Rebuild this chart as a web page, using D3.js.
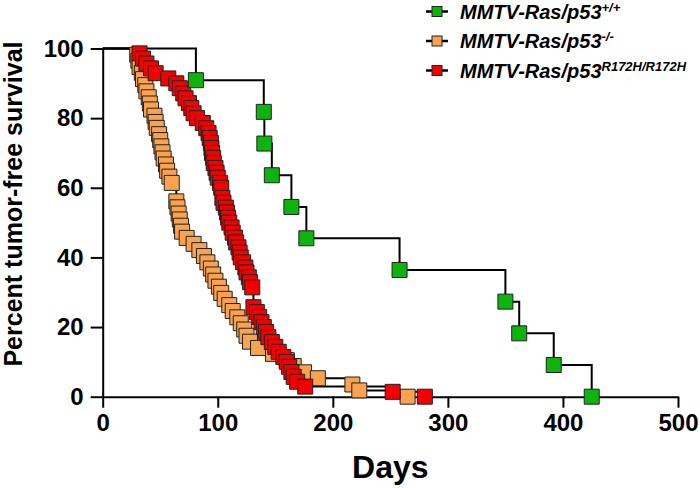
<!DOCTYPE html>
<html>
<head>
<meta charset="utf-8">
<script src="https://cdn.jsdelivr.net/npm/d3@7"></script>
<style>
  body { margin: 0; background: #fff; }
  svg { display: block; font-family: "Liberation Sans", Arial, sans-serif; }
</style>
</head>
<body>
<svg id="chart" width="700" height="488"></svg>
<script>
// Kaplan-Meier steps: day of each step and % left after it
const wtDays = [81, 140, 140.5, 147, 164, 177, 258, 350, 362, 392, 425];
const wtSurv = [90.9, 81.8, 72.7, 63.6, 54.5, 45.5, 36.4, 27.3, 18.2, 9.1, 0];

const nullDays = [30, 31, 32, 34, 35, 37, 38, 40, 41, 42, 45, 46, 47, 49, 50, 51, 52, 53, 55, 56,
  58, 60, 64, 65, 66, 67, 68, 69, 73, 79, 84, 88, 91, 94, 96, 98, 101, 103, 106, 110,
  113, 117, 120, 123, 125, 128, 135, 148, 160, 166, 175, 187, 217, 223, 265];
const nullSurv = [98.2, 96.5, 94.7, 93.0, 91.2, 89.5, 87.7, 86.0, 84.2, 82.5, 80.7, 78.9, 77.2, 75.4, 73.7, 71.9, 70.2, 68.4, 66.7, 64.9,
  63.2, 61.4, 56.1, 54.4, 52.6, 50.9, 49.1, 47.4, 45.6, 43.9, 42.1, 40.4, 38.6, 36.8, 35.1, 33.3, 31.6, 29.8, 28.1, 26.3,
  24.6, 22.8, 21.1, 19.3, 17.5, 15.8, 14.0, 12.3, 10.5, 8.8, 7.0, 5.3, 3.5, 1.8, 0];

const mutDays = [32, 35, 38, 42, 46, 57, 64, 67, 70, 72, 75, 77, 79, 82, 87, 90, 92, 93, 94, 94.5,
  95, 96, 96.5, 98, 99, 100, 102, 103, 104, 105, 107, 108, 109, 110, 112, 113, 115, 116, 118, 119,
  120, 122, 124, 125, 127, 128, 130, 131, 134, 136, 138, 140, 142, 144, 147, 150, 153, 157, 160, 162,
  164, 166, 169, 176, 252, 280];
const mutSurv = [98.6, 97.1, 95.7, 94.3, 92.9, 91.4, 90.0, 88.6, 87.1, 85.7, 84.3, 82.9, 81.4, 80.0, 78.6, 77.1, 75.7, 74.3, 72.9, 71.4,
  70.0, 68.6, 67.1, 65.7, 64.3, 62.9, 61.4, 60.0, 57.1, 55.7, 54.3, 52.9, 51.4, 50.0, 48.6, 47.1, 45.7, 44.3, 42.9, 41.4,
  40.0, 38.6, 37.1, 35.7, 34.3, 32.9, 31.4, 25.7, 24.3, 22.9, 21.4, 20.0, 18.6, 17.1, 15.7, 14.3, 12.9, 11.4, 10.0, 8.6,
  7.1, 5.7, 4.3, 2.9, 1.4, 0];

const groupSups = ["+/+", "-/-", "R172H/R172H"];
const groupColors = ["#0db40d", "#f9a24f", "#f40000"];
const xTicks = [0, 100, 200, 300, 400, 500];
const yTicks = [0, 20, 40, 60, 80, 100];

const svg = d3.select("#chart");
const margin = { top: 48.5, right: 22, bottom: 91.3, left: 102.7 };
const W = 700, H = 488;

const x = d3.scaleLinear().domain([0, 500]).range([margin.left, W - margin.right]);
const y = d3.scaleLinear().domain([0, 100]).range([H - margin.bottom, margin.top]);

const groups = [
  { days: wtDays, surv: wtSurv, color: groupColors[0] },
  { days: nullDays, surv: nullSurv, color: groupColors[1] },
  { days: mutDays, surv: mutSurv, color: groupColors[2] }
].map(g => ({ ...g, pts: g.days.map((d, i) => [d, g.surv[i]]) }));

// axes
const xAxis = svg.append("g")
  .attr("transform", `translate(0,${y(0)})`)
  .call(d3.axisBottom(x).tickValues(xTicks).tickSize(11).tickSizeOuter(0).tickPadding(6));
const yAxis = svg.append("g")
  .attr("transform", `translate(${x(0)},0)`)
  .call(d3.axisLeft(y).tickValues(yTicks).tickSize(12).tickSizeOuter(0).tickPadding(7));

[xAxis, yAxis].forEach(a => {
  a.select(".domain").attr("stroke", "#000").attr("stroke-width", 2);
  a.selectAll(".tick line").attr("stroke", "#000").attr("stroke-width", 2);
  a.selectAll(".tick text").attr("fill", "#000")
    .style("font-size", "24px").style("font-weight", "bold");
});

// step lines
const step = d3.line().curve(d3.curveStepAfter).x(d => x(d[0])).y(d => y(d[1]));
const lines = svg.append("g");
[groups[1], groups[2], groups[0]].forEach(g => {
  lines.append("path")
    .attr("d", step([[0, 100], ...g.pts]))
    .attr("fill", "none")
    .attr("stroke", "#000")
    .attr("stroke-width", 2);
});

// markers, orange under red under green
const sq = d3.symbol().type(d3.symbolSquare).size(225);
[groups[1], groups[2], groups[0]].forEach(g => {
  svg.append("g").selectAll("path")
    .data(g.pts)
    .join("path")
    .attr("d", sq)
    .attr("transform", d => `translate(${x(d[0])},${y(d[1])})`)
    .attr("fill", g.color)
    .attr("stroke", "#222")
    .attr("stroke-width", 1);
});

// axis titles
svg.append("text")
  .attr("x", (x(0) + x(500)) / 2).attr("y", 478)
  .attr("text-anchor", "middle")
  .style("font-size", "32px").style("font-weight", "bold")
  .text("Days");

svg.append("text")
  .attr("transform", `translate(22,204) rotate(-90)`)
  .attr("text-anchor", "middle")
  .style("font-size", "25px").style("font-weight", "bold")
  .text("Percent tumor-free survival");

// legend
const legend = svg.append("g");
groupSups.forEach((s, i) => {
  const ly = 11.5 + i * 29.5;
  legend.append("line")
    .attr("x1", 426).attr("x2", 448).attr("y1", ly).attr("y2", ly)
    .attr("stroke", "#000").attr("stroke-width", 2.5);
  legend.append("rect")
    .attr("x", 432).attr("y", ly - 5).attr("width", 10).attr("height", 10)
    .attr("fill", groupColors[i]).attr("stroke", "#222").attr("stroke-width", 1);
  const t = legend.append("text")
    .attr("x", 460).attr("y", ly + 7)
    .style("font-size", "20px").style("font-weight", "bold").style("font-style", "italic");
  t.append("tspan").text("MMTV-Ras/p53");
  t.append("tspan").attr("dy", -7).style("font-size", "13px").text(s);
});
</script>
</body>
</html>
